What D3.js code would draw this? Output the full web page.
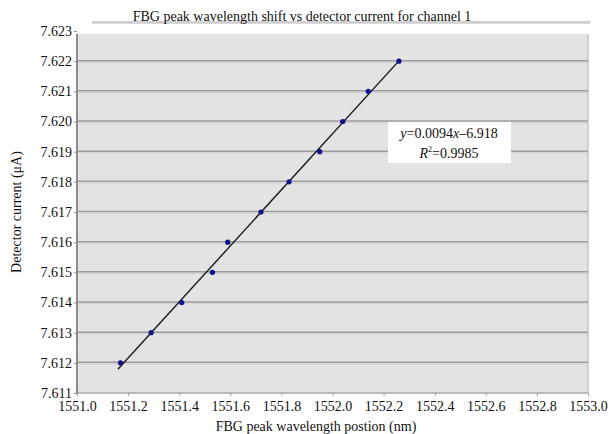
<!DOCTYPE html>
<html><head><meta charset="utf-8">
<script src="https://cdn.jsdelivr.net/npm/d3@7"></script>
<style>
html,body{margin:0;padding:0;background:#fff;}
svg{display:block;}
svg text{font-family:"Liberation Serif","DejaVu Serif","Times New Roman",serif !important;}
</style></head>
<body>
<svg id="chart" width="613" height="434"></svg>
<script>
const title = "FBG peak wavelength shift vs detector current for channel 1";
const xLabel = "FBG peak wavelength postion (nm)";
const yLabel = "Detector current (\u03bcA)";
const wavelength = [1551.17, 1551.29, 1551.41, 1551.53, 1551.59, 1551.72, 1551.83, 1551.95, 1552.04, 1552.14, 1552.26];
const current    = [7.612, 7.613, 7.614, 7.615, 7.616, 7.617, 7.618, 7.619, 7.620, 7.621, 7.622];
const xTicks = [1551.0, 1551.2, 1551.4, 1551.6, 1551.8, 1552.0, 1552.2, 1552.4, 1552.6, 1552.8, 1553.0];
const yTicks = [7.611, 7.612, 7.613, 7.614, 7.615, 7.616, 7.617, 7.618, 7.619, 7.620, 7.621, 7.622, 7.623];
const eqText = ["0.0094", "6.918"];
const r2Text = "0.9985";

const svg = d3.select("#chart");
const L = 77, R = 588, T = 31, B = 393;
const x = d3.scaleLinear().domain([1551.0, 1553.0]).range([L, R]);
const y = d3.scaleLinear().domain([7.611, 7.623]).range([B, T]);
const FS = 14;

svg.append("rect").attr("x", L).attr("y", 34).attr("width", R - L).attr("height", B - 34).attr("fill", "#e3e3e3");

const grid = svg.append("g");
yTicks.filter(v => v > 7.6111 && v < 7.6229).forEach(v => {
  grid.append("line").attr("x1", L).attr("x2", R).attr("y1", y(v) - 0.5).attr("y2", y(v) - 0.5)
    .attr("stroke", "#9c9c9c").attr("stroke-width", 1.5);
  grid.append("line").attr("x1", L).attr("x2", R).attr("y1", y(v) + 1.2).attr("y2", y(v) + 1.2)
    .attr("stroke", "#d2d2d2").attr("stroke-width", 1);
});
svg.append("line").attr("x1", L).attr("x2", R).attr("y1", B).attr("y2", B).attr("stroke", "#a8a8a8").attr("stroke-width", 1.5);
svg.append("line").attr("x1", R).attr("x2", R).attr("y1", 34).attr("y2", B).attr("stroke", "#b0b0b0").attr("stroke-width", 1);

const yAxis = d3.axisLeft(y).tickValues(yTicks).tickFormat(d3.format(".3f")).tickSize(3).tickPadding(2);
const gy = svg.append("g").attr("transform", `translate(${L},0)`).call(yAxis);
gy.attr("font-family", null);
gy.select(".domain").attr("stroke", "#8c8c8c").attr("stroke-width", 2).attr("d", `M0,34V${B}`);
gy.selectAll(".tick line").attr("stroke", "#8c8c8c");
gy.selectAll("text").attr("font-size", FS).attr("fill", "#111");

const xAxis = d3.axisBottom(x).tickValues(xTicks).tickFormat(d3.format(".1f")).tickSize(3).tickPadding(5);
const gx = svg.append("g").attr("transform", `translate(0,${B})`).call(xAxis);
gx.attr("font-family", null);
gx.select(".domain").remove();
gx.selectAll(".tick line").attr("stroke", "#a0a0a0");
gx.selectAll("text").attr("font-size", FS).attr("fill", "#111");

// trendline (least squares from data)
const n = wavelength.length;
const mx = d3.mean(wavelength), my = d3.mean(current);
let sxy = 0, sxx = 0;
for (let i = 0; i < n; i++) { sxy += (wavelength[i] - mx) * (current[i] - my); sxx += (wavelength[i] - mx) ** 2; }
const slope = sxy / sxx, icpt = my - slope * mx;
const x0 = d3.min(wavelength) - 0.01, x1 = d3.max(wavelength);
svg.append("line").attr("x1", x(x0)).attr("y1", y(slope * x0 + icpt)).attr("x2", x(x1)).attr("y2", y(slope * x1 + icpt))
  .attr("stroke", "#1a1a1a").attr("stroke-width", 1.4);

svg.append("g").selectAll("circle").data(wavelength).join("circle")
  .attr("cx", d => x(d)).attr("cy", (d, i) => y(current[i])).attr("r", 2.6)
  .attr("fill", "#10108a");

svg.append("line").attr("x1", 92).attr("x2", 590).attr("y1", 22).attr("y2", 22).attr("stroke", "#a0a0a0").attr("stroke-width", 1.2);
svg.append("line").attr("x1", 92).attr("x2", 590).attr("y1", 23.3).attr("y2", 23.3).attr("stroke", "#d0d0d0").attr("stroke-width", 1);
svg.append("text").attr("x", 302).attr("y", 21).attr("text-anchor", "middle").attr("font-size", FS).attr("fill", "#111").text(title);

svg.append("text").attr("x", 316).attr("y", 431).attr("text-anchor", "middle").attr("font-size", FS).attr("fill", "#111").text(xLabel);
svg.append("text").attr("transform", "translate(21,212) rotate(-90)").attr("text-anchor", "middle").attr("font-size", FS).attr("fill", "#111").text(yLabel);

svg.append("rect").attr("x", 388).attr("y", 122).attr("width", 123).attr("height", 41).attr("fill", "#fff");
const t1 = svg.append("text").attr("x", 449).attr("y", 138).attr("text-anchor", "middle").attr("font-size", FS).attr("fill", "#111");
t1.append("tspan").attr("font-style", "italic").text("y");
t1.append("tspan").text("=" + eqText[0]);
t1.append("tspan").attr("font-style", "italic").text("x");
t1.append("tspan").text("\u2013" + eqText[1]);
const t2 = svg.append("text").attr("x", 449).attr("y", 158).attr("text-anchor", "middle").attr("font-size", FS).attr("fill", "#111");
t2.append("tspan").attr("font-style", "italic").text("R");
t2.append("tspan").attr("font-size", 8).attr("dy", -6).text("2");
t2.append("tspan").attr("dy", 6).text("=" + r2Text);
</script>
</body></html>
